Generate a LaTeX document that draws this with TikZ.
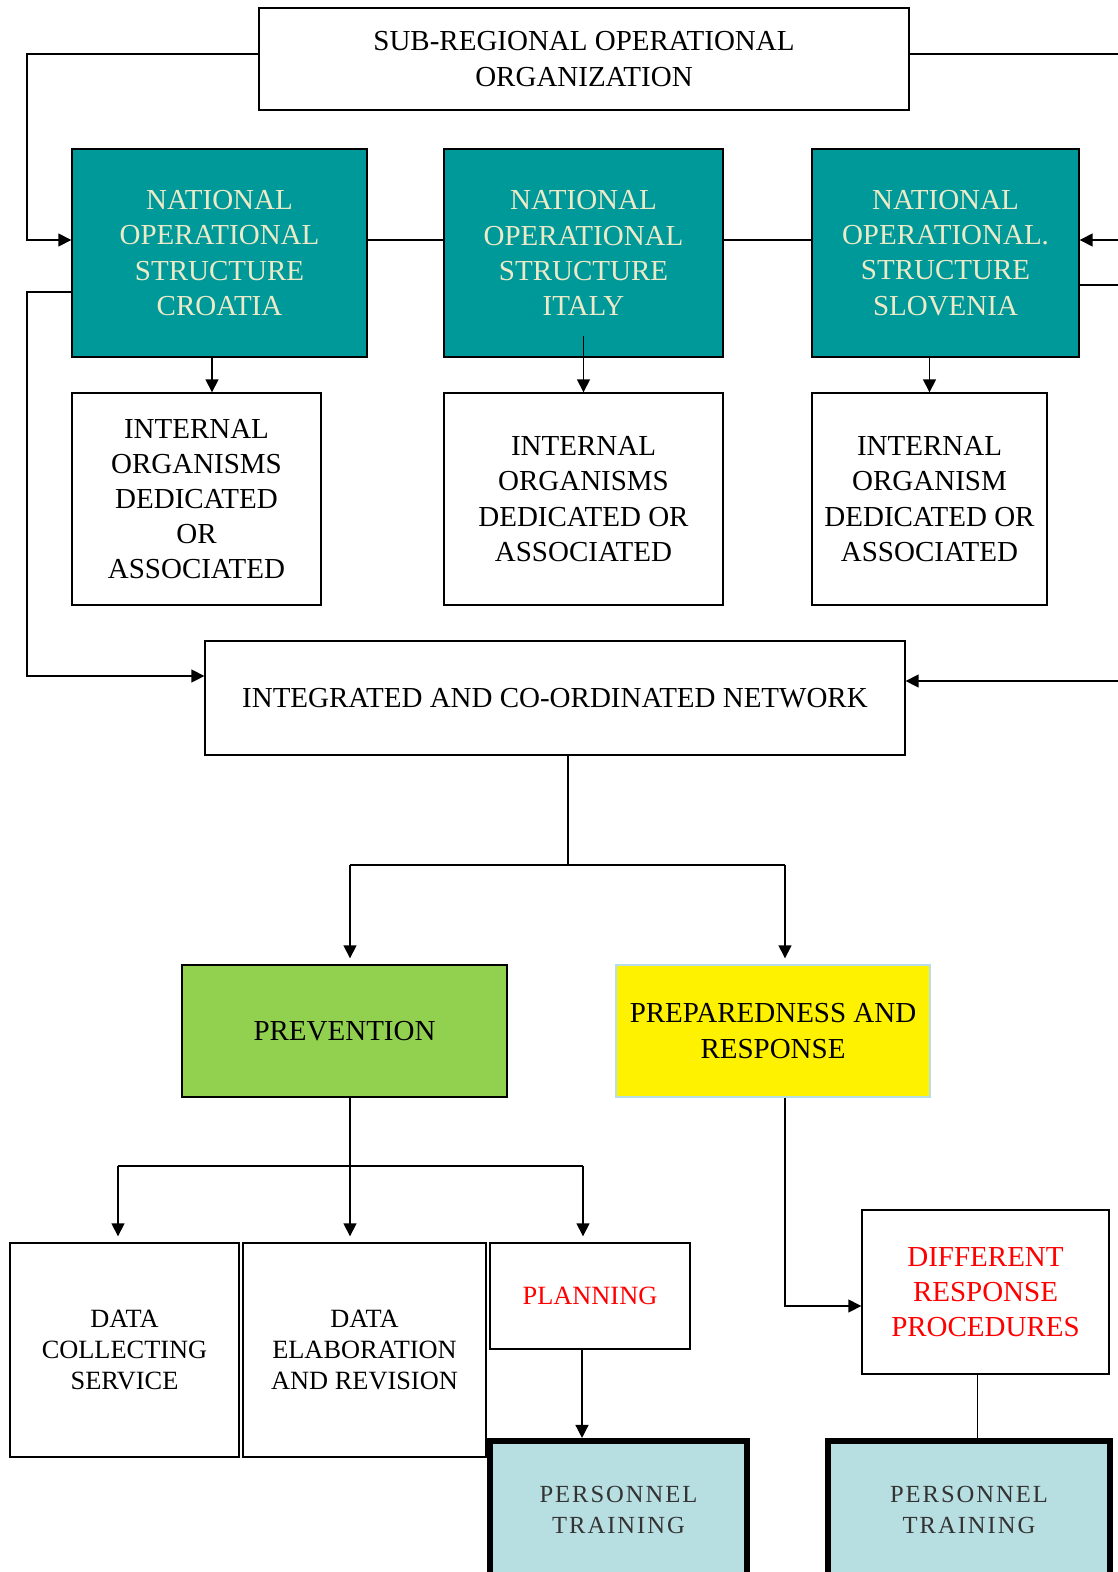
\documentclass[tikz,border=0pt]{standalone}
\usepackage{fontspec}
\setmainfont{Liberation Serif}
\usepackage{tikz}
\usetikzlibrary{arrows.meta}

\definecolor{natfill}{RGB}{0,153,153}
\definecolor{nattext}{RGB}{236,234,200}
\definecolor{prevfill}{RGB}{146,208,80}
\definecolor{prepline}{RGB}{183,221,232}
\definecolor{trainfill}{RGB}{183,222,225}

\tikzset{
  box/.style={draw, line width=0.8pt, align=center, inner sep=2pt,
    font=\fontsize{16.5}{20}\selectfont},
  natbox/.style={box, fill=natfill, text=nattext},
  smallbox/.style={box, font=\fontsize{15}{17.6}\selectfont},
  trainbox/.style={box, line width=3.5pt, fill=trainfill, text=black!80,
    font=\fontsize{14}{17.6}\selectfont\addfontfeature{LetterSpace=8}},
  shortgap/.style={shorten >=0.12cm}
}

\begin{document}
\begin{tikzpicture}[x=0.02cm, y=-0.02cm, line width=0.8pt,
    >={Triangle[length=0.26cm,width=0.26cm]}]
    \useasboundingbox (0,0) rectangle (1118,1572);
    \fill[white] (0,0) rectangle (1118,1572);
    \clip (0,0) rectangle (1118,1572);

    \node[box, minimum width=13cm, minimum height=2.04cm] (sub) at (584,59) {SUB-REGIONAL OPERATIONAL\\ORGANIZATION};
    \node[natbox, minimum width=5.9cm, minimum height=4.16cm] (croatia) at (219.5,253) {NATIONAL\\OPERATIONAL\\STRUCTURE\\CROATIA};
    \node[natbox, minimum width=5.58cm, minimum height=4.16cm] (italy) at (583.5,253) {NATIONAL\\OPERATIONAL\\STRUCTURE\\ITALY};
    \node[natbox, minimum width=5.34cm, minimum height=4.16cm] (slovenia) at (945.5,253) {NATIONAL\\OPERATIONAL.\\STRUCTURE\\SLOVENIA};
    \node[box, minimum width=4.98cm, minimum height=4.24cm] (intcro) at (196.5,499) {INTERNAL\\ORGANISMS\\DEDICATED\\OR\\ASSOCIATED};
    \node[box, minimum width=5.58cm, minimum height=4.24cm] (intita) at (583.5,499) {INTERNAL\\ORGANISMS\\DEDICATED OR\\ASSOCIATED};
    \node[box, minimum width=4.7cm, minimum height=4.24cm] (intslo) at (929.5,499) {INTERNAL\\ORGANISM\\DEDICATED OR\\ASSOCIATED};
    \node[box, minimum width=14cm, minimum height=2.28cm] (integ) at (555,698) {INTEGRATED AND CO-ORDINATED NETWORK};

    \node[box, fill=prevfill, minimum width=6.5cm, minimum height=2.64cm] (prev) at (344.5,1031) {PREVENTION};
    \node[box, draw=prepline, fill=yellow, minimum width=6.28cm, minimum height=2.64cm] (prep) at (773,1031) {PREPAREDNESS AND\\RESPONSE};

    \node[smallbox, minimum width=4.58cm, minimum height=4.28cm] (datacol) at (124.5,1350) {DATA\\COLLECTING\\SERVICE};
    \node[smallbox, minimum width=4.86cm, minimum height=4.28cm] (dataelab) at (364.5,1350) {DATA\\ELABORATION\\AND REVISION};
    \node[smallbox, text=red, minimum width=4cm, minimum height=2.12cm] (planning) at (590,1296) {PLANNING};
    \node[box, text=red, minimum width=4.94cm, minimum height=3.28cm] (diffresp) at (985.5,1292) {DIFFERENT\\RESPONSE\\PROCEDURES};
    \node[trainbox, minimum width=5.14cm, minimum height=2.74cm] (pers1) at (618.5,1509.5) {PERSONNEL\\TRAINING};
    \node[trainbox, minimum width=5.64cm, minimum height=2.74cm] (pers2) at (969,1509.5) {PERSONNEL\\TRAINING};

    % outer loops
    \coordinate (la) at (27,54);
    \coordinate (lb) at (27,240);
    \coordinate (lc) at (27,292);
    \coordinate (ld) at (27,676);
    \coordinate (ra) at (1130,54);
    \coordinate (rb) at (1130,240);
    \coordinate (rc) at (1130,285);
    \coordinate (rd) at (1130,681);
    \draw[->] (sub.west |- la) -- (la) -- (lb) -- (croatia.west |- lb);
    \draw[->] (sub.east |- ra) -- (ra) -- (rb) -- (slovenia.east |- rb);
    \draw (croatia.east |- lb) -- (italy.west |- lb);
    \draw (italy.east |- lb) -- (slovenia.west |- lb);
    \draw[->] (croatia.west |- lc) -- (lc) -- (ld) -- (integ.west |- ld);
    \draw[->] (slovenia.east |- rc) -- (rc) -- (rd) -- (integ.east |- rd);

    \draw[->] ([xshift=-0.15cm]croatia.south) -- ([xshift=-0.15cm]croatia.south |- intcro.north);
    \draw[->] ([yshift=0.44cm]italy.south) -- (italy.south |- intita.north);
    \draw[->] (slovenia.south -| intslo.north) -- (intslo.north);

    \coordinate (split) at (568,865);
    \coordinate (splitL) at (350,865);
    \coordinate (splitR) at (785,865);
    \draw (integ.south -| split) -- (split);
    \draw (splitL) -- (splitR);
    \draw[->, shortgap] (splitL) -- (splitL |- prev.north);
    \draw[->, shortgap] (splitR) -- (splitR |- prep.north);

    \coordinate (fork) at (350,1166);
    \coordinate (forkL) at (118,1166);
    \coordinate (forkR) at (583,1166);
    \draw (prev.south -| fork) -- (fork);
    \draw (forkL) -- (forkR);
    \draw[->, shortgap] (forkL) -- (forkL |- datacol.north);
    \draw[->, shortgap] (fork) -- (fork |- dataelab.north);
    \draw[->, shortgap] (forkR) -- (forkR |- planning.north);

    \coordinate (bend) at (785,1306);
    \draw[->] (prep.south -| bend) -- (bend) -- (diffresp.west |- bend);

    \draw[->] ([xshift=-0.16cm]planning.south) -- ([xshift=-0.16cm]planning.south |- pers1.north);
    \draw[thin] ([xshift=-0.16cm]diffresp.south) -- ([xshift=-0.16cm]diffresp.south |- pers2.north);
\end{tikzpicture}
\end{document}
